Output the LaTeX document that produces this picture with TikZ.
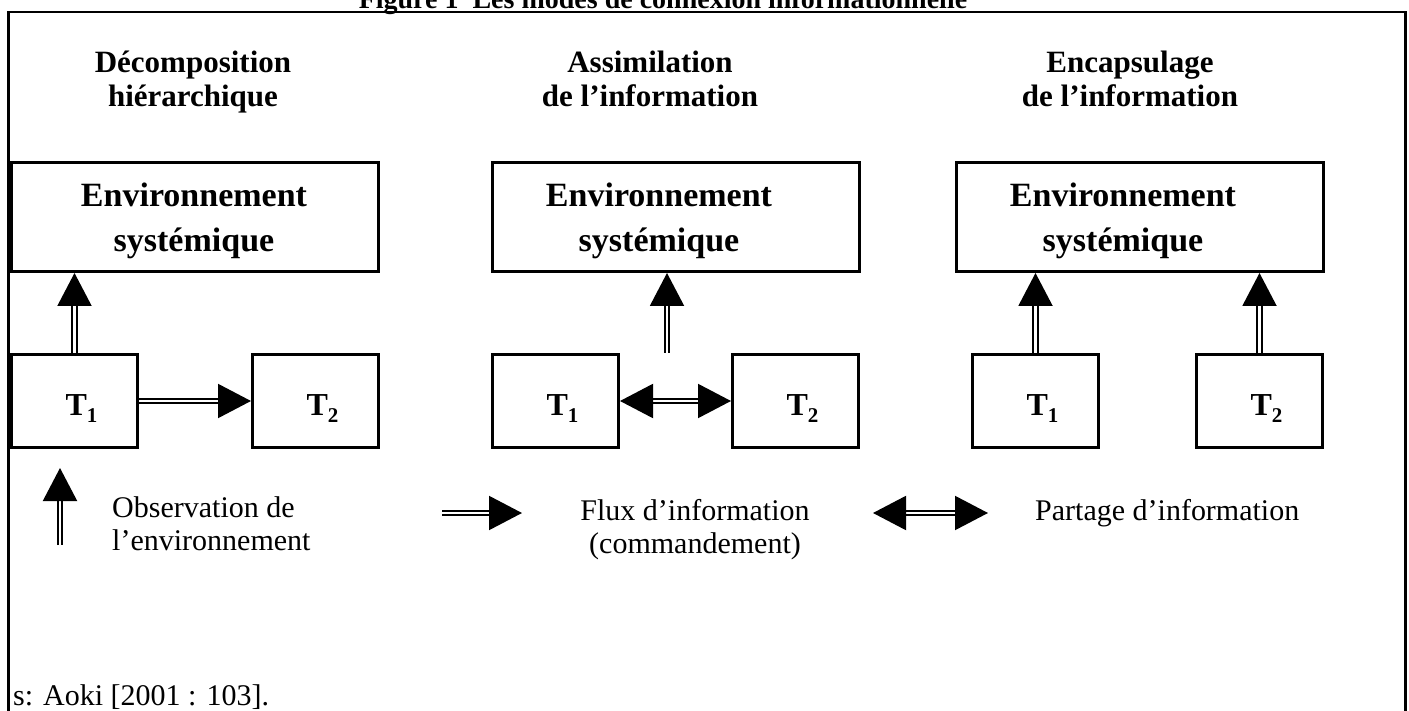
\documentclass[tikz,border=0pt]{standalone}
\usepackage{fontspec}
\setmainfont{Liberation Serif}
\usetikzlibrary{arrows.meta}
\newcommand{\tlab}[1]{\textbf{T\raisebox{-7pt}{\fontsize{21}{21}\selectfont #1}}}

\begin{document}
\begin{tikzpicture}[x=1pt,y=-1pt,
	envbox/.style={draw,line width=3pt,minimum width=367pt,minimum height=109pt,inner sep=0pt},
	tbox/.style={draw,line width=3pt,minimum width=126pt,minimum height=93pt,inner sep=0pt},
	head/.style={font=\fontsize{31}{34}\selectfont\bfseries,align=center,anchor=base,inner sep=0pt},
	envtext/.style={font=\fontsize{34}{45}\selectfont\bfseries,align=center,anchor=base,inner sep=0pt},
	tname/.style={font=\fontsize{32}{32}\selectfont,anchor=base,inner sep=0pt},
	legend/.style={font=\fontsize{30}{33}\selectfont,inner sep=0pt},
	flow/.style={double,line width=2pt,double distance=2.5pt,-{Triangle[length=33pt,width=34pt]}},
	share/.style={flow,{Triangle[length=33pt,width=34pt]}-{Triangle[length=33pt,width=34pt]}}]
		\useasboundingbox (0,0) rectangle (1409,711);
		% frame and title
		\draw[line width=2.5pt] (8.5,720)--(8.5,12)--(1405.5,12)--(1405.5,720);
		\node[at={(663,9)},anchor=base,inner sep=0pt,font=\fontsize{28}{28}\selectfont\bfseries] (title) {Figure 1~ Les modes de connexion informationnelle};
		% headings (base = last line)
		\node[head,at={(193,107)}] (headA) {Décomposition\\hiérarchique};
		\node[head,at={(650,107)}] (headB) {Assimilation\\de l’information};
		\node[head,at={(1130,107)}] (headC) {Encapsulage\\de l’information};
		% environment boxes
		\node[envbox,at={(195,217)}] (envA) {};
		\node[envbox,at={(675.5,217)}] (envB) {};
		\node[envbox,at={(1139.5,217)}] (envC) {};
		\node[envtext,at={(194,252)}] (txtA) {Environnement\\systémique};
		\node[envtext,at={(659,252)}] (txtB) {Environnement\\systémique};
		\node[envtext,at={(1123,252)}] (txtC) {Environnement\\systémique};
		% tasks
		\node[tbox,at={(74.5,401)}] (T1a) {};
		\node[tbox,at={(315.5,401)}] (T2a) {};
		\node[tbox,at={(555.5,401)}] (T1b) {};
		\node[tbox,at={(795.5,401)}] (T2b) {};
		\node[tbox,at={(1035.5,401)}] (T1c) {};
		\node[tbox,at={(1259.5,401)}] (T2c) {};
		\foreach \t/\n in {T1a/1,T2a/2,T1b/1,T2b/2,T1c/1,T2c/2}
			\node[tname] at ([xshift=7pt,yshift=-14pt]\t.center) {\tlab{\n}};
		% connections
		\draw[flow] (T1a.north)--(T1a.north |- envA.south);
		\draw[flow] (T1a.east)--(T2a.west);
		\coordinate (upB) at (667,353);
		\draw[flow] (upB)--(upB |- envB.south);
		\draw[share] (T1b.east)--(T2b.west);
		\draw[flow] (T1c.north)--(T1c.north |- envC.south);
		\draw[flow] (T2c.north)--(T2c.north |- envC.south);
		% legend
		\coordinate (obsS) at (60,545);
		\coordinate (obsE) at (60,468);
		\draw[flow] (obsS)--(obsE);
		\node[legend,align=left,anchor=base west,at={(112,550)}] (obs) {Observation de\\l’environnement};
		\coordinate (fluxS) at (442,513);
		\coordinate (fluxE) at (522,513);
		\draw[flow] (fluxS)--(fluxE);
		\node[legend,align=center,anchor=base,at={(695,553)}] (flux) {Flux d’information\\(commandement)};
		\coordinate (partS) at (873,513);
		\coordinate (partE) at (988,513);
		\draw[share] (partS)--(partE);
		\node[legend,anchor=base west,at={(1035,520)}] (part) {Partage d’information};
		% source
		\node[legend,anchor=base west,at={(13,705)}] (src) {s: Aoki [2001 : 103].};
\end{tikzpicture}
\end{document}
